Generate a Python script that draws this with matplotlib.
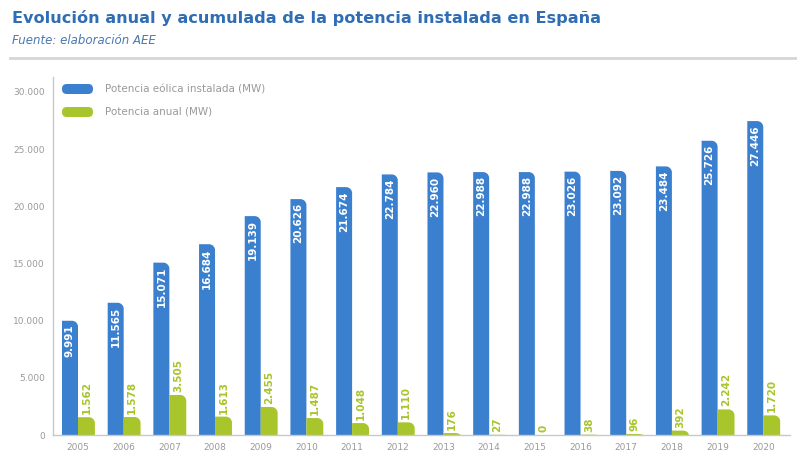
import numpy as np
import matplotlib.pyplot as plt
from matplotlib.path import Path
from matplotlib.patches import PathPatch, FancyBboxPatch
from matplotlib.ticker import FuncFormatter

years = ['2005', '2006', '2007', '2008', '2009', '2010', '2011', '2012',
         '2013', '2014', '2015', '2016', '2017', '2018', '2019', '2020']
acumulada = [9991, 11565, 15071, 16684, 19139, 20626, 21674, 22784,
             22960, 22988, 22988, 23026, 23092, 23484, 25726, 27446]
anual = [1562, 1578, 3505, 1613, 2455, 1487, 1048, 1110,
         176, 27, 0, 38, 96, 392, 2242, 1720]
y_ticks = [0, 5000, 10000, 15000, 20000, 25000, 30000]

BLUE = '#3b7fcf'
GREEN = '#a8c52c'
GREY = '#8c8c8c'


def miles(v):
    return f'{int(v):,}'.replace(',', '.')


def rounded_bar(ax, x0, w, h, color, rx, ry):
    # rectangle with only the top-right corner rounded
    if h <= 0:
        return
    ry = min(ry, h)
    k = 0.5523
    verts = [(x0, 0), (x0 + w, 0), (x0 + w, h - ry),
             (x0 + w, h - ry + k * ry), (x0 + w - rx + k * rx, h), (x0 + w - rx, h),
             (x0, h), (x0, 0)]
    codes = [Path.MOVETO, Path.LINETO, Path.LINETO,
             Path.CURVE4, Path.CURVE4, Path.CURVE4,
             Path.LINETO, Path.CLOSEPOLY]
    ax.add_patch(PathPatch(Path(verts, codes), facecolor=color, edgecolor='none'))


fig = plt.figure(figsize=(7.97, 4.57), dpi=100)
ax = fig.add_axes([0.0665, 0.048, 0.925, 0.7835])

x = np.arange(len(years))
bw = 0.35
ymax = 31300
ax.set_xlim(-0.547, 15.59)
ax.set_ylim(0, ymax)

# pixel -> data scale for the rounded corners
px_x = (15.59 + 0.547) / (0.925 * 797)
px_y = ymax / (0.7835 * 457)
rx, ry = 6 * px_x, 6 * px_y

for i in x:
    rounded_bar(ax, i - bw, bw, acumulada[i], BLUE, rx, ry)
    rounded_bar(ax, i, bw + 0.02, anual[i], GREEN, rx, ry)
    ax.text(i - bw / 2, acumulada[i] - 4 * px_y, miles(acumulada[i]), rotation=90,
            ha='center', va='top', color='white', fontsize=7.5, fontweight='bold')
    ax.text(i + bw / 2 + 0.01, anual[i] + 3 * px_y, miles(anual[i]), rotation=90,
            ha='center', va='bottom', color=GREEN, fontsize=7.5, fontweight='bold')

ax.set_xticks(x)
ax.set_xticklabels(years)
ax.set_yticks(y_ticks)
ax.yaxis.set_major_formatter(FuncFormatter(lambda v, p: miles(v)))
ax.tick_params(length=0, labelsize=6.5, colors='#999999', pad=6)
for s in ['top', 'right']:
    ax.spines[s].set_visible(False)
for s in ['left', 'bottom']:
    ax.spines[s].set_color('#c8c8c8')
    ax.spines[s].set_linewidth(1)

# legend
for j, (col, txt) in enumerate([(BLUE, 'Potencia eólica instalada (MW)'),
                                 (GREEN, 'Potencia anual (MW)')]):
    yc = 1 - (89 + 23 * j) / 457
    fig.patches.append(FancyBboxPatch((62 / 797, yc - 5 / 457), 31 / 797, 10 / 457,
                                      boxstyle='round,pad=0,rounding_size=0.006',
                                      transform=fig.transFigure, facecolor=col,
                                      edgecolor='none', mutation_aspect=797 / 457))
    fig.text(105 / 797, yc, txt, ha='left', va='center', fontsize=7.5, color='#999999')

fig.text(12 / 797, 1 - 18 / 457, 'Evolución anual y acumulada de la potencia instalada en España',
         ha='left', va='center', fontsize=11.6, fontweight='bold', color='#2f6db5')
fig.text(12 / 797, 1 - 40 / 457, 'Fuente: elaboración AEE', ha='left', va='center',
         fontsize=8.5, style='italic', color='#4b78b0')
fig.add_artist(plt.Line2D([10 / 797, 1], [1 - 58 / 457] * 2, color='#d6d6d6', lw=2,
                          transform=fig.transFigure))

fig.savefig('out.png', dpi=100)
